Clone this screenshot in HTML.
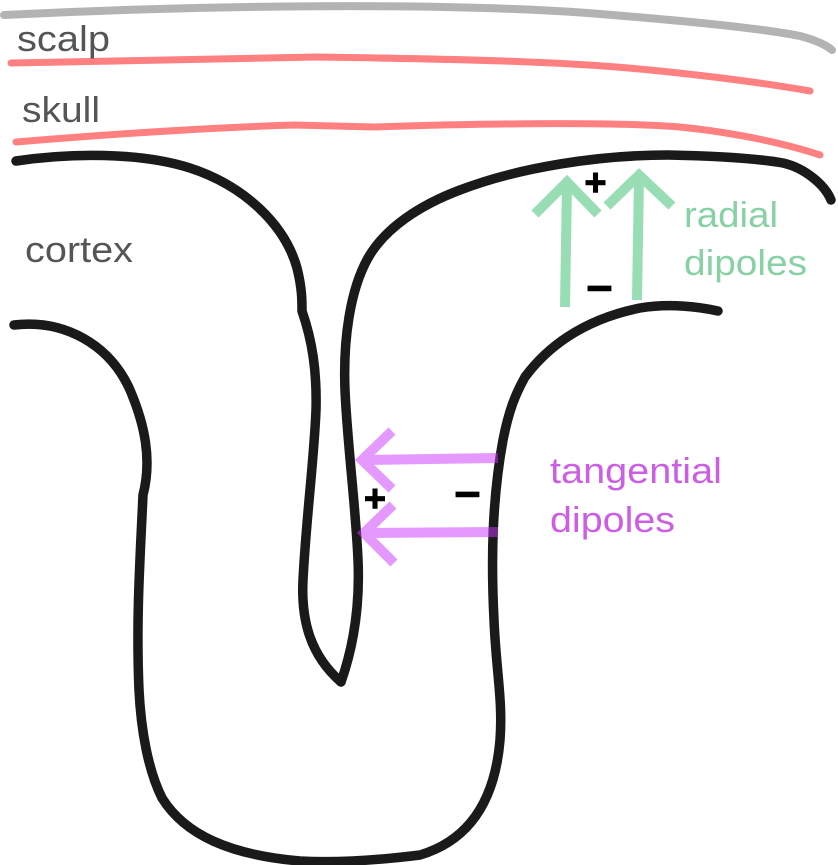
<!DOCTYPE html>
<html><head><meta charset="utf-8"><style>
html,body{margin:0;padding:0;background:#fff;}
svg{display:block;}
text{font-family:"Liberation Sans",Arial,sans-serif;}
</style></head><body>
<svg width="838" height="865" viewBox="0 0 838 865" xmlns="http://www.w3.org/2000/svg">
<rect width="838" height="865" fill="#fff"/>
<!-- scalp line -->
<path d="M4,15 C200,5 450,2 600,14 C700,22 770,30 800,36 C815,40 825,44 832,50" fill="none" stroke="#b3b3b3" stroke-width="8" stroke-linecap="round" stroke-linejoin="round"/>
<!-- skull lines -->
<path d="M11,63 L316,57 C450,59 560,61 650,70 C720,77 770,84 810,91" fill="none" stroke="#ff8080" stroke-width="7" stroke-linecap="round" stroke-linejoin="round"/>
<path d="M16,142 C100,135 200,128 294,125 L374,127 C500,123 620,122 680,127 C740,133 790,145 820,155" fill="none" stroke="#ff8080" stroke-width="7" stroke-linecap="round" stroke-linejoin="round"/>
<!-- cortex upper contour -->
<path d="M16,161 C70,153 140,152 190,168 C245,186 285,225 297,268 C302,288 302,300 302,311 C312,340 317,370 316,410 C314,460 306,520 303,580 C301,620 310,655 341,682 C354,645 360,605 358,560 C356,510 347,440 345,390 C343,340 350,290 368,258 C385,228 420,205 460,190 C520,167 600,155 668,155 C720,156 760,159 783,163 C805,168 825,185 831,200" fill="none" stroke="#1a1a1a" stroke-width="9.5" stroke-linecap="round" stroke-linejoin="round"/>
<!-- cortex lower contour -->
<path d="M14,325 C65,319 110,345 130,390 C145,425 152,460 143,495 C140,560 136,620 139,690 C141,730 148,770 162,798 C185,835 230,855 300,861 C340,863 380,860 420,855 C470,840 495,800 500,740 C503,700 496,670 494,620 C491,560 492,500 503,440 C509,410 515,395 525,377 C545,350 580,320 640,308 C670,303 700,307 718,311" fill="none" stroke="#1a1a1a" stroke-width="9.5" stroke-linecap="round" stroke-linejoin="round"/>
<!-- radial arrows -->
<path d="M535,214 L567,182 L598,214 M567,183 L565,307" fill="none" stroke="#99ddb5" stroke-width="10" stroke-linejoin="miter" stroke-linecap="butt"/>
<path d="M607,206 L639,175 L672,206 M639,176 L637,300" fill="none" stroke="#99ddb5" stroke-width="10" stroke-linejoin="miter" stroke-linecap="butt"/>
<!-- tangential arrows -->
<path d="M392,431 L362,460 L392,489 M363,460 L498,458" fill="none" stroke="#cc33ff" stroke-opacity="0.5" stroke-width="10" stroke-linejoin="miter" stroke-linecap="butt"/>
<path d="M393,505 L364,533 L394,563 M365,533 L498,532" fill="none" stroke="#cc33ff" stroke-opacity="0.5" stroke-width="10" stroke-linejoin="miter" stroke-linecap="butt"/>
<!-- signs -->
<g fill="#000" stroke="#000" stroke-width="2.5" text-anchor="middle">
<text x="595.5" y="194.5" font-size="36">+</text>
<text x="375" y="510.5" font-size="36">+</text>
<text x="599.5" y="303" font-size="44">−</text>
<text x="467.5" y="509" font-size="44">−</text>
</g>
<!-- labels -->
<text x="17" y="51" font-size="36" fill="#555555" textLength="93" lengthAdjust="spacingAndGlyphs">scalp</text>
<text x="22" y="122" font-size="36" fill="#555555" textLength="78" lengthAdjust="spacingAndGlyphs">skull</text>
<text x="25" y="262" font-size="36" fill="#555555" textLength="108" lengthAdjust="spacingAndGlyphs">cortex</text>
<text x="684" y="227" font-size="36" fill="#88d1a5" textLength="94" lengthAdjust="spacingAndGlyphs">radial</text>
<text x="684" y="275" font-size="36" fill="#88d1a5" textLength="123" lengthAdjust="spacingAndGlyphs">dipoles</text>
<text x="550" y="483" font-size="36" fill="#cc5ee6" textLength="172" lengthAdjust="spacingAndGlyphs">tangential</text>
<text x="550" y="532" font-size="36" fill="#cc5ee6" textLength="125" lengthAdjust="spacingAndGlyphs">dipoles</text>
</svg>
</body></html>
